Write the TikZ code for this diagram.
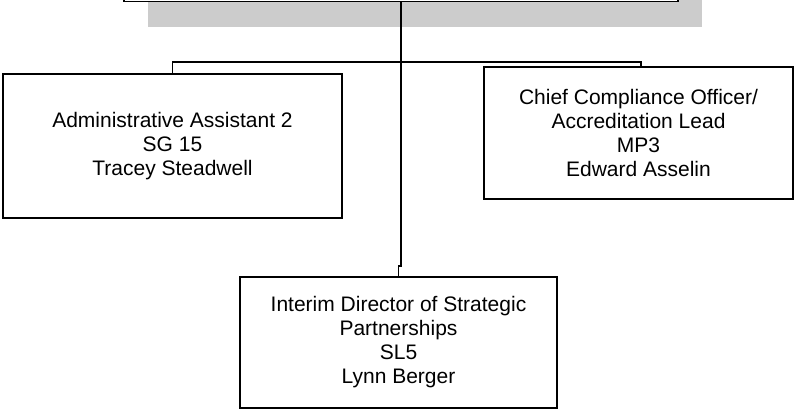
\documentclass[tikz,border=0pt]{standalone}
\usepackage{fontspec}
\setmainfont{Liberation Sans}
\begin{document}
\begin{tikzpicture}[x=1pt,y=-1pt,
  box/.style={draw=black,line width=1.6pt,fill=white,inner sep=0pt,align=center,
    font=\fontsize{21}{24}\selectfont},
  shadowbox/.style={fill=black!20,draw=none},
  conn/.style={draw=black,line width=1.6pt}]
\clip (0,0) rectangle (796,410);
% top box (cut off) with shadow
\fill[shadowbox] (148,-80) rectangle (702,26.5);
\node[box,minimum width=554pt,minimum height=152pt] (top) at (401,-74.5) {};
% boxes
\node[box,minimum width=339pt,minimum height=144pt] (adm) at (172.5,146)
  {Administrative Assistant 2\\SG 15\\Tracey Steadwell};
\node[box,minimum width=309pt,minimum height=132pt] (cco) at (638.5,133)
  {Chief Compliance Officer/\\Accreditation Lead\\MP3\\Edward Asselin};
\node[box,minimum width=317pt,minimum height=131pt] (dir) at (398.5,342.5)
  {Interim Director of Strategic\\Partnerships\\SL5\\Lynn Berger};
% connectors
\coordinate (bl) at (172.5,62);
\coordinate (br) at (641,62);
\coordinate (jog) at (401,266);
\draw[conn] (adm.north) -- (bl) -- (br) -- (br |- cco.north);
\draw[conn] (top.south) -- (jog) -| (dir.north);
\end{tikzpicture}
\end{document}
